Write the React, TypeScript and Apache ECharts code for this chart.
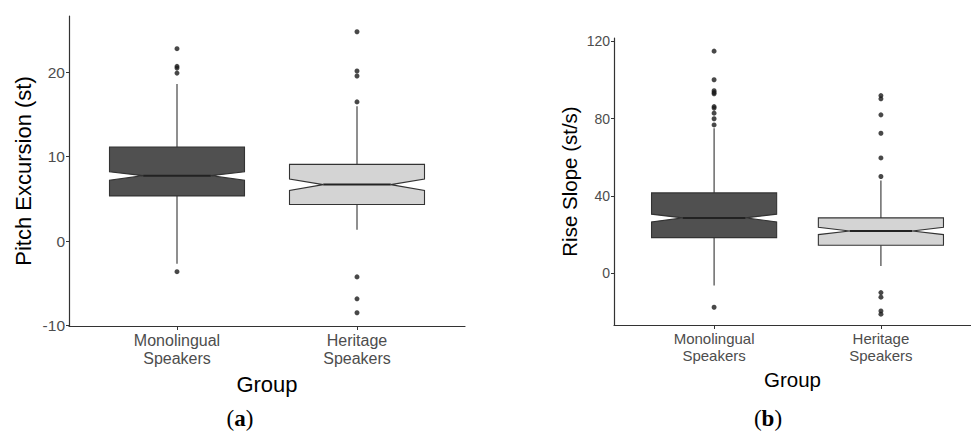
import React, { useEffect, useRef } from "react";
import * as echarts from "echarts";

const categories = ["Monolingual\nSpeakers", "Heritage\nSpeakers"];
// box stats: [lowerWhisker, q1, notchLow, median, notchHigh, q3, upperWhisker]
const pitchMono = [-2.7, 5.35, 7.2, 7.75, 8.2, 11.15, 18.6];
const pitchHeritage = [1.33, 4.33, 5.98, 6.69, 7.36, 9.09, 15.98];
const pitchMonoOut = [22.8, 20.7, 20.5, 19.9, -3.63];
const pitchHeritageOut = [24.8, 20.15, 19.56, 16.49, -4.25, -6.85, -8.5];
const slopeMono = [-6.4, 18.45, 26.6, 28.65, 30.6, 41.6, 75.1];
const slopeHeritage = [3.8, 14.5, 20.0, 21.9, 23.8, 28.65, 48.0];
const slopeMonoOut = [115, 100.2, 94.5, 93.6, 92.9, 86.3, 85.5, 82.9, 80, 76.8, -17.6];
const slopeHeritageOut = [92.0, 90.3, 82.0, 72.5, 59.7, 50.1, -10.0, -12.4, -19.5, -21.2];
const pitchTicks = [-10, 0, 10, 20];
const slopeTicks = [0, 40, 80, 120];
const catPositions = [1, 2];

const FONT = "Liberation Sans, Arial, sans-serif";
const fills = ["#505050", "#d4d4d4"];
const EDGE = "#333333";

function renderBox(params: any, api: any) {
  const x = api.value(0);
  const v = [1, 2, 3, 4, 5, 6, 7].map((i) => api.value(i));
  const [lw, q1, nlo, med, nhi, q3, uw] = v;
  const half = 0.375;
  const nh = half * 0.5;
  const c = (dx: number, val: number) => api.coord([x + dx, val]);
  const pts = [
    c(-half, q3), c(half, q3), c(half, nhi), c(nh, med), c(half, nlo), c(half, q1),
    c(-half, q1), c(-half, nlo), c(-nh, med), c(-half, nhi),
  ];
  const fill = fills[params.dataIndex];
  const top = c(0, q3), up = c(0, uw), bot = c(0, q1), low = c(0, lw);
  const ml = c(-nh, med), mr = c(nh, med);
  return {
    type: "group",
    children: [
      { type: "line", shape: { x1: up[0], y1: up[1], x2: top[0], y2: top[1] }, style: { stroke: EDGE, lineWidth: 1.1 } },
      { type: "line", shape: { x1: low[0], y1: low[1], x2: bot[0], y2: bot[1] }, style: { stroke: EDGE, lineWidth: 1.1 } },
      { type: "polygon", shape: { points: pts }, style: { fill, stroke: EDGE, lineWidth: 1.1 } },
      { type: "line", shape: { x1: ml[0], y1: ml[1], x2: mr[0], y2: mr[1] }, style: { stroke: "#222", lineWidth: 2 } },
    ],
  };
}

function xAxisCfg(gridIndex: number, max: number, fontSize: number, gap: number, nameSize: number) {
  return {
    type: "value",
    gridIndex,
    min: 0.4,
    max,
    name: "Group",
    nameLocation: "middle",
    nameGap: gap,
    nameTextStyle: { fontFamily: FONT, fontSize: nameSize, color: "#000" },
    axisLine: { onZero: false, lineStyle: { color: "#333", width: 1.2 } },
    axisTick: { customValues: catPositions, length: 4, lineStyle: { color: "#333" } },
    axisLabel: {
      customValues: catPositions,
      formatter: (val: number) => categories[Math.round(val) - 1] ?? "",
      fontFamily: FONT,
      fontSize,
      lineHeight: fontSize * 1.15,
      color: "#4d4d4d",
      margin: 5,
    },
    splitLine: { show: false },
  };
}

function yAxisCfg(gridIndex: number, min: number, max: number, ticks: number[], name: string, fontSize: number, gap: number, nameSize: number) {
  return {
    type: "value",
    gridIndex,
    min,
    max,
    name,
    nameLocation: "middle",
    nameGap: gap,
    nameTextStyle: { fontFamily: FONT, fontSize: nameSize, color: "#000" },
    axisLine: { show: true, onZero: false, lineStyle: { color: "#333", width: 1.2 } },
    axisTick: { show: true, customValues: ticks, length: 3, lineStyle: { color: "#333" } },
    axisLabel: { customValues: ticks, fontFamily: FONT, fontSize, color: "#4d4d4d", margin: 4 },
    splitLine: { show: false },
  };
}

export default function App() {
  const ref = useRef<HTMLDivElement>(null);
  useEffect(() => {
    if (!ref.current) return;
    const chart = echarts.init(ref.current, null, { renderer: "svg" });
    const pts = (vals: number[], x: number) => vals.map((v) => [x, v]);
    const caption = (letter: string, x: number) => ({
      type: "text",
      x,
      y: 418,
      style: {
        text: "(" + "{a|" + letter + "})",
        font: "23px 'Liberation Serif', serif",
        fill: "#000",
        align: "center",
        verticalAlign: "middle",
        rich: { a: { fontWeight: "bold", fontSize: 23, fontFamily: "Liberation Serif, serif" } },
      },
    });
    chart.setOption({
      animation: false,
      backgroundColor: "#fff",
      grid: [
        { left: 69, top: 16, width: 396, height: 310 },
        { left: 614, top: 38, width: 357, height: 287 },
      ],
      xAxis: [xAxisCfg(0, 2.6, 16, 47, 22), xAxisCfg(1, 2.54, 15, 44, 20.5)],
      yAxis: [
        yAxisCfg(0, -10.07, 26.67, pitchTicks, "Pitch Excursion (st)", 15.5, 35, 22),
        yAxisCfg(1, -26.8, 121.8, slopeTicks, "Rise Slope (st/s)", 14, 34, 20.5),
      ],
      series: [
        {
          type: "custom",
          xAxisIndex: 0,
          yAxisIndex: 0,
          renderItem: renderBox,
          encode: { x: 0, y: [1, 2, 3, 4, 5, 6, 7] },
          data: [[1, ...pitchMono], [2, ...pitchHeritage]],
        },
        {
          type: "custom",
          xAxisIndex: 1,
          yAxisIndex: 1,
          renderItem: renderBox,
          encode: { x: 0, y: [1, 2, 3, 4, 5, 6, 7] },
          data: [[1, ...slopeMono], [2, ...slopeHeritage]],
        },
        {
          type: "scatter",
          xAxisIndex: 0,
          yAxisIndex: 0,
          symbolSize: 5,
          itemStyle: { color: "#1a1a1a" },
          data: [...pts(pitchMonoOut, 1), ...pts(pitchHeritageOut, 2)],
        },
        {
          type: "scatter",
          xAxisIndex: 1,
          yAxisIndex: 1,
          symbolSize: 5,
          itemStyle: { color: "#1a1a1a" },
          data: [...pts(slopeMonoOut, 1), ...pts(slopeHeritageOut, 2)],
        },
      ],
      graphic: [caption("a", 240), caption("b", 768)],
    });
    return () => chart.dispose();
  }, []);
  return <div ref={ref} style={{ position: "absolute", left: 0, top: 0, width: 971, height: 439 }} />;
}
